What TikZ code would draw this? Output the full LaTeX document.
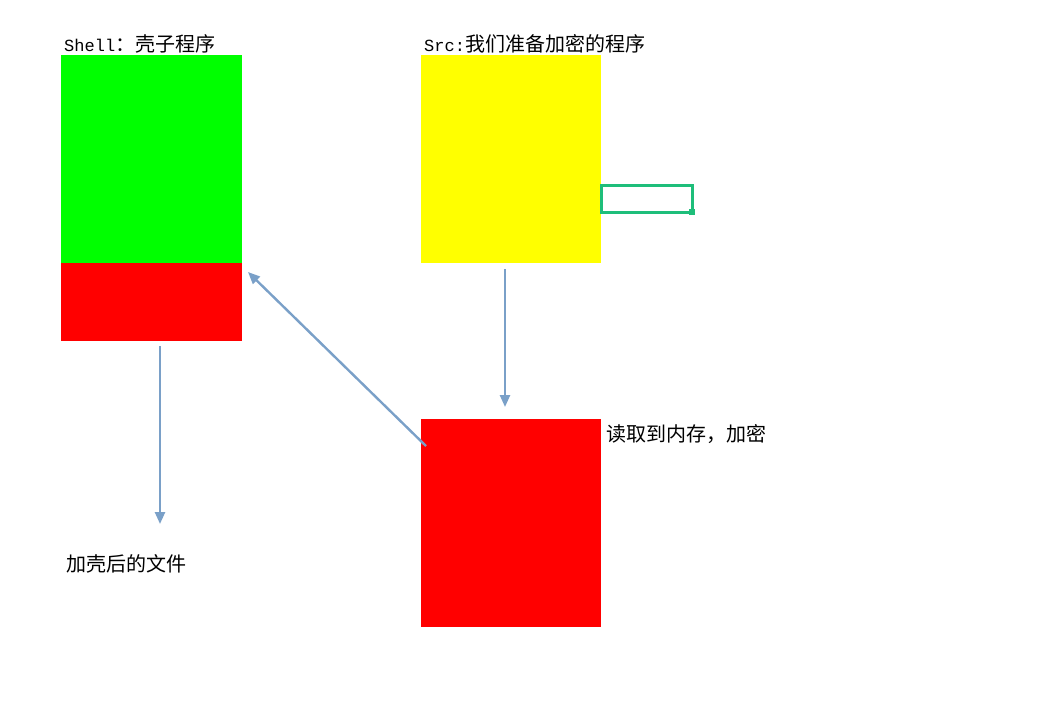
\documentclass[tikz,border=0pt]{standalone}
\usepackage{fontspec}
\newfontfamily\cjk{Noto Sans CJK SC}
\newfontfamily\lmono[Scale=0.85]{Liberation Mono}
\usetikzlibrary{arrows.meta}
\definecolor{arrowblue}{RGB}{122,160,200}
\definecolor{selgreen}{RGB}{30,190,122}
\definecolor{brightgreen}{RGB}{0,255,0}
\definecolor{pureyellow}{RGB}{255,255,0}
\definecolor{purered}{RGB}{255,0,0}
\tikzset{
  block/.style={anchor=north west, inner sep=0pt, outer sep=0pt, draw=none},
  lbl/.style={anchor=west, inner sep=0pt, font=\fontsize{20pt}{23pt}\selectfont\cjk},
  flow/.style={draw=arrowblue, line width=2.4pt, -{Triangle[length=12pt,width=10pt]}},
}
\begin{document}
\begin{tikzpicture}[x=1pt,y=-1pt]
\useasboundingbox (0,0) rectangle (1063,705);
\fill[white] (0,0) rectangle (1063,705);
% blocks
\node[block, fill=brightgreen, minimum width=181pt, minimum height=208pt] (shell) at (61,55) {};
\node[block, fill=purered, minimum width=181pt, minimum height=78pt] (shellred) at (61,263) {};
\node[block, fill=pureyellow, minimum width=180pt, minimum height=208pt] (src) at (421,55) {};
\node[block, fill=purered, minimum width=180pt, minimum height=208pt] (mem) at (421,419) {};
% selection box
\node[block, draw=selgreen, line width=3pt, minimum width=91pt, minimum height=27pt] (sel) at (601,185) {};
\fill[selgreen] (688.5,208.5) rectangle (694.5,214.5);
% labels
\node[lbl] (lshell) at (64,44) {{\lmono Shell}：壳子程序};
\node[lbl] (lsrc) at (424,44) {{\lmono Src:}我们准备加密的程序};
\node[lbl] (lmem) at (606,434) {读取到内存，加密};
\node[lbl] (lout) at (66,564) {加壳后的文件};
% connectors
\coordinate (a1s) at (160,346);
\coordinate (a1e) at (160,524);
\coordinate (a2s) at (505,269);
\coordinate (a2e) at (505,407);
\coordinate (a3s) at (426,446);
\coordinate (a3e) at (248,272);
\draw[flow] (a1s) -- (a1e);
\draw[flow] (a2s) -- (a2e);
\draw[flow] (a3s) -- (a3e);
\end{tikzpicture}
\end{document}
